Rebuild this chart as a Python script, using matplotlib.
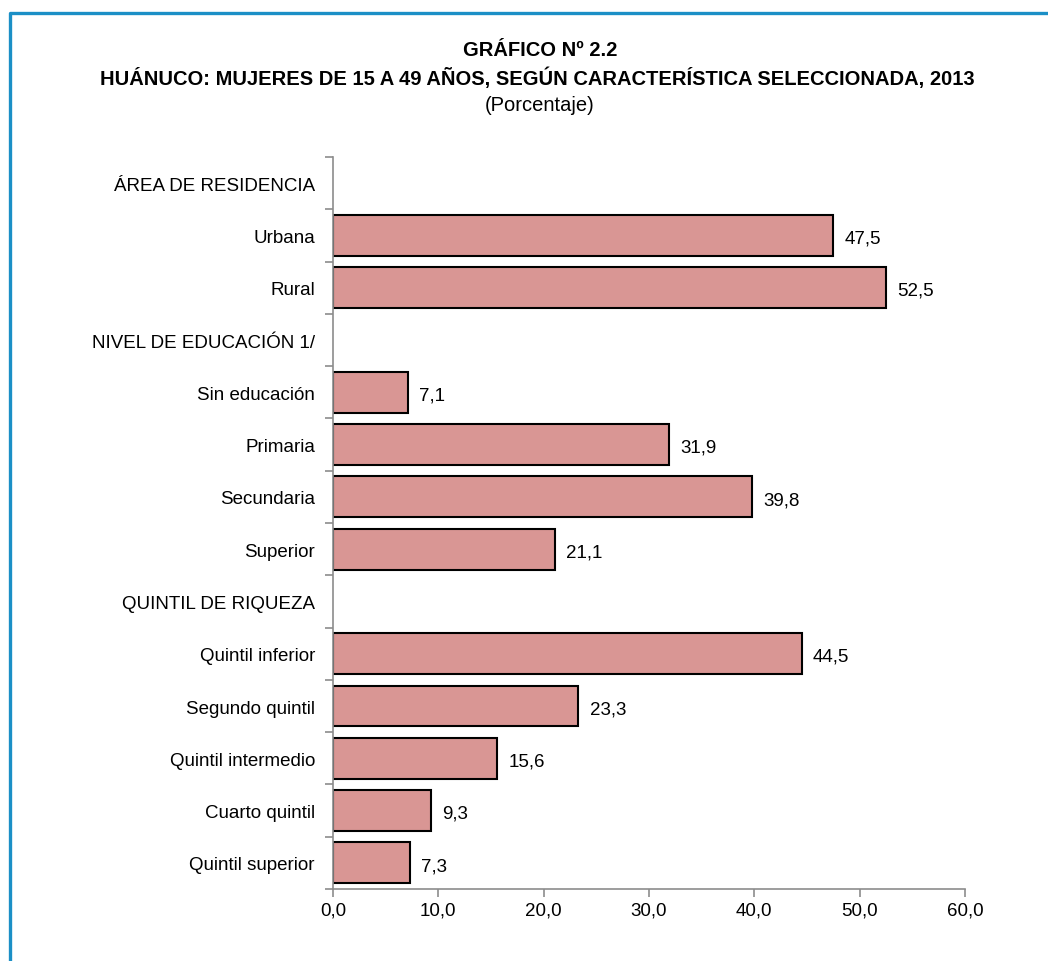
import matplotlib
matplotlib.use("Agg")
from matplotlib import pyplot as plt
from matplotlib import font_manager as fm
from matplotlib.lines import Line2D
import numpy as np

labels = [
    "ÁREA DE RESIDENCIA", "Urbana", "Rural",
    "NIVEL DE EDUCACIÓN 1/", "Sin educación", "Primaria", "Secundaria", "Superior",
    "QUINTIL DE RIQUEZA", "Quintil inferior", "Segundo quintil", "Quintil intermedio",
    "Cuarto quintil", "Quintil superior",
]
values = [None, 47.5, 52.5, None, 7.1, 31.9, 39.8, 21.1, None, 44.5, 23.3, 15.6, 9.3, 7.3]
xticks = [0, 10, 20, 30, 40, 50, 60]

names = {f.name for f in fm.fontManager.ttflist}
family = "Liberation Sans Narrow" if "Liberation Sans Narrow" in names else "Liberation Sans"
plt.rcParams["font.family"] = [family, "DejaVu Sans"]

fig = plt.figure(figsize=(10.48, 9.62), dpi=100)
fig.set_facecolor("w")
ax = fig.add_axes([333 / 1048, 1 - 890 / 962, (965 - 333) / 1048, (890 - 158) / 962])

pos = np.arange(len(labels))
for y, v in zip(pos, values):
    if v is None:
        continue
    ax.barh(y, v, height=0.78, color="#d99694", edgecolor="black", linewidth=1.5)
    ax.annotate(f"{v:.1f}".replace(".", ","), (v, y), xytext=(8, -2), textcoords="offset points",
                va="center", ha="left", fontsize=13.5)

ax.set_xlim(0, 60)
ax.set_ylim(len(labels) - 0.5, -0.5)
ax.set_xticks(xticks, [f"{t:.1f}".replace(".", ",") for t in xticks], fontsize=13.5)
ax.set_yticks(pos, labels, fontsize=13.5)
ax.set_yticks(np.arange(len(labels) + 1) - 0.5, minor=True)
ax.tick_params(axis="y", which="major", length=0, pad=13)
ax.tick_params(axis="y", which="minor", length=6, color="#8c8c8c", width=1.2)
ax.tick_params(axis="x", length=6, color="#8c8c8c", width=1.2, pad=3)
for s in ["top", "right"]:
    ax.spines[s].set_visible(False)
for s in ["left", "bottom"]:
    ax.spines[s].set_color("#8c8c8c")
    ax.spines[s].set_linewidth(1.2)

fig.text(540 / 1048, 1 - 50 / 962, "GRÁFICO Nº 2.2", ha="center", va="center", fontsize=14.5, fontweight="bold")
fig.text(537 / 1048, 1 - 78 / 962, "HUÁNUCO: MUJERES DE 15 A 49 AÑOS, SEGÚN CARACTERÍSTICA SELECCIONADA, 2013",
         ha="center", va="center", fontsize=14.5, fontweight="bold")
fig.text(540 / 1048, 1 - 106 / 962, "(Porcentaje)", ha="center", va="center", fontsize=14.5)

fig.add_artist(Line2D([9.5 / 1048, 9.5 / 1048, 1], [0, 1 - 13.5 / 962, 1 - 13.5 / 962],
                      transform=fig.transFigure, color="#1b8fc6", linewidth=2.4))

fig.savefig("out.png", dpi=100)
